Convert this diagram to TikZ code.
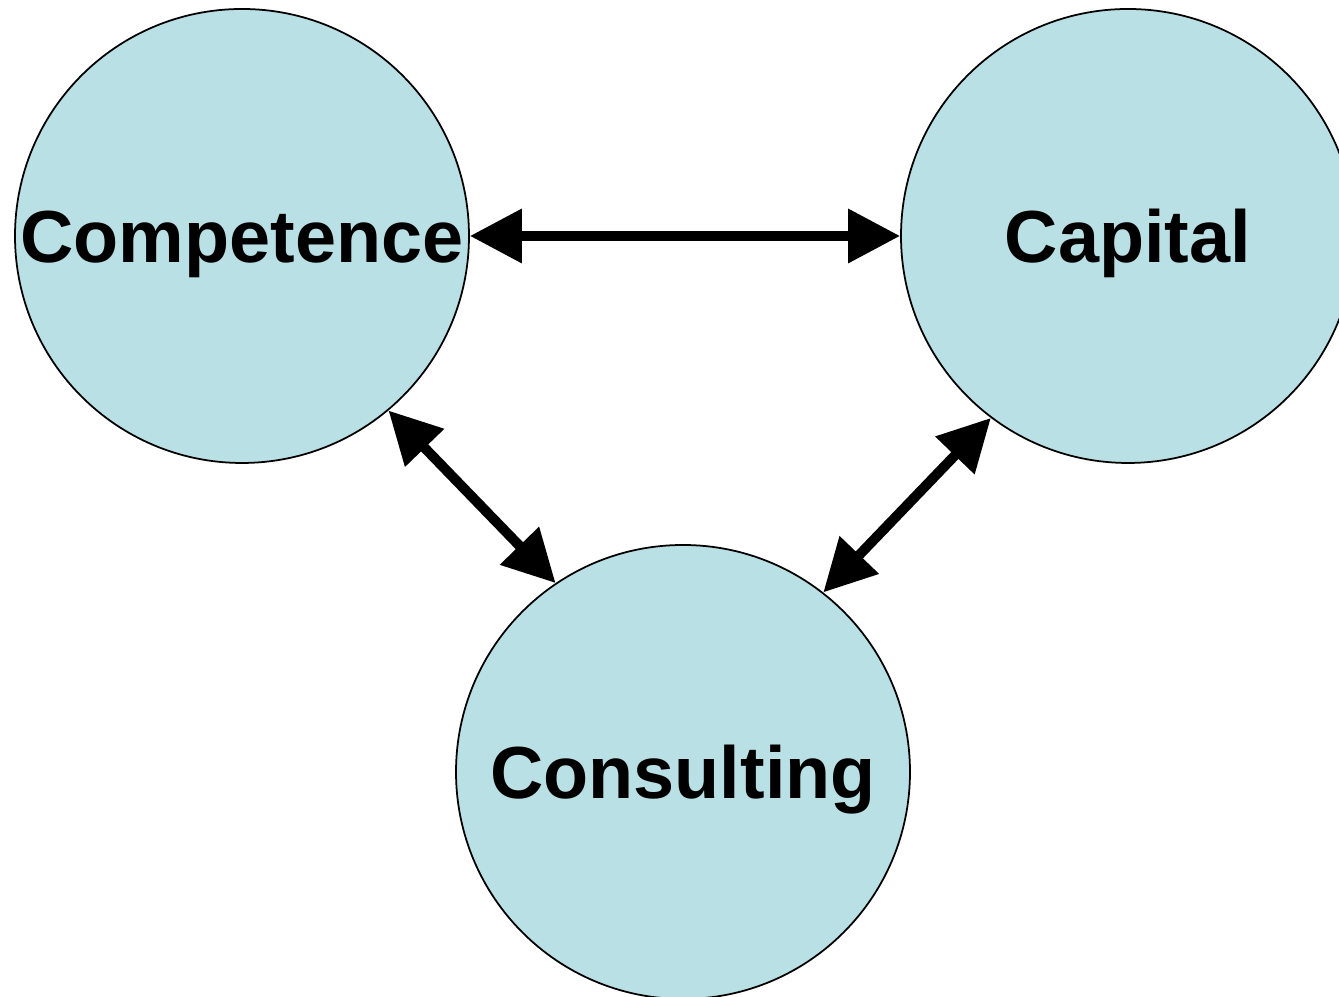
\documentclass[tikz,border=0pt]{standalone}
\usepackage{fontspec}
\setmainfont{Liberation Sans}
\usepackage{tikz}
\usetikzlibrary{arrows.meta}
\definecolor{ballblue}{RGB}{185,224,228}
\tikzset{>={Triangle[length=0.52cm,width=0.52cm]}}
\tikzset{ball/.style={circle, draw, line width=0.5pt, fill=ballblue, minimum size=4.54cm,
  inner sep=0pt, font=\fontsize{21}{25}\selectfont\bfseries, text height=0.53cm, text depth=0pt},
  link/.style={<->, line width=0.1cm}}

\begin{document}
\begin{tikzpicture}
  \useasboundingbox (0,0) rectangle (13.39,9.97);
  \node[ball] (comp) at (2.42,7.61) {Competence};
  \node[ball] (cap) at (11.28,7.61) {Capital};
  \node[ball] (cons) at (6.83,2.25) {Consulting};
  \draw[link] (comp.east) to (cap.west);
  \draw[link] (comp.-50) to (cons.124);
  \draw[link] (cap.233) to (cons.52);
\end{tikzpicture}
\end{document}
